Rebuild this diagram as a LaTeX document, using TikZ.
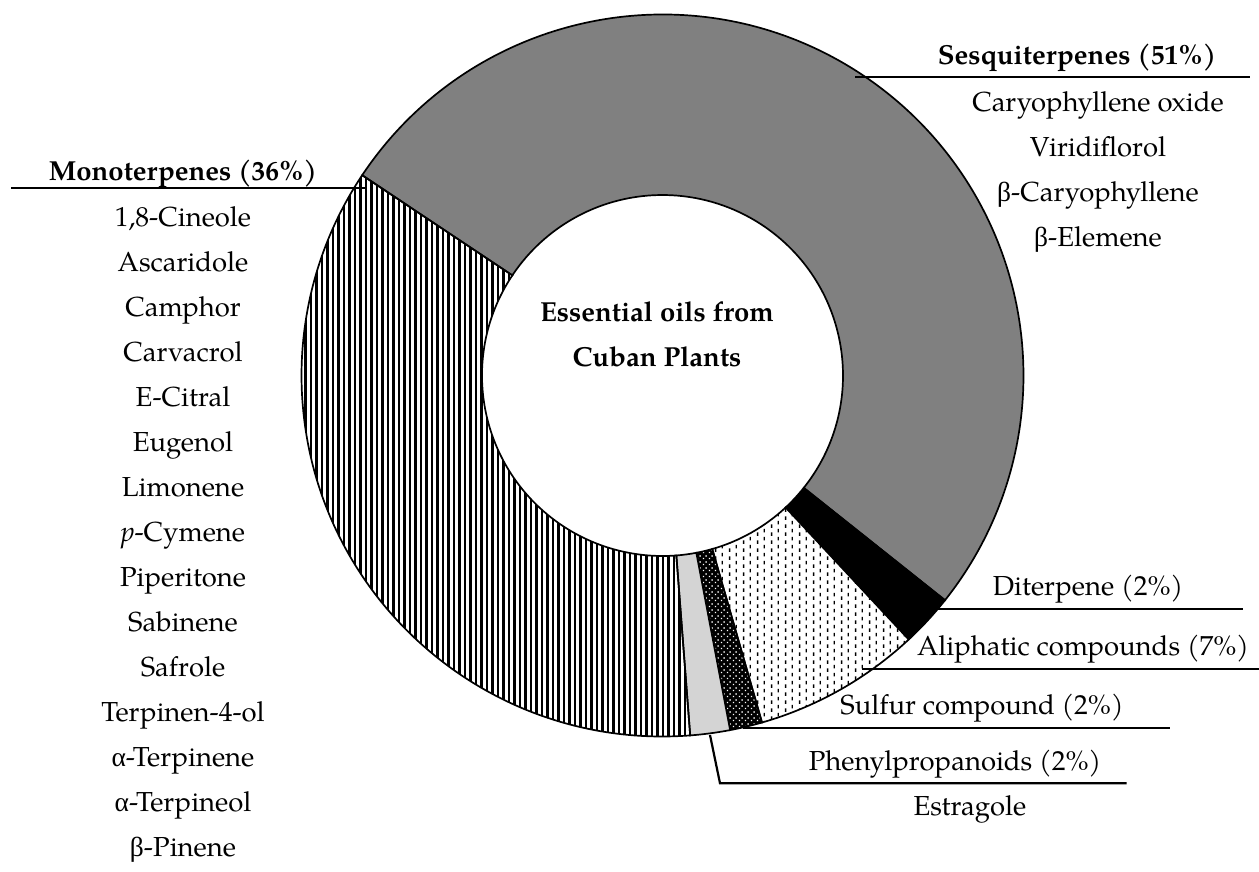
\documentclass[tikz,border=0pt]{standalone}
\usepackage{fontspec}
\setmainfont{texgyrepagella}[Extension=.otf, UprightFont=*-regular, BoldFont=*-bold, ItalicFont=*-italic, BoldItalicFont=*-bolditalic]
\newfontfamily\grk{Liberation Serif}
\usetikzlibrary{patterns}
\pgfdeclarepatternformonly{vdashes}{\pgfpointorigin}{\pgfpoint{14pt}{8pt}}{\pgfpoint{14pt}{8pt}}{\pgfpathrectangle{\pgfpoint{1pt}{0pt}}{\pgfpoint{1.4pt}{4pt}}\pgfpathrectangle{\pgfpoint{8pt}{4pt}}{\pgfpoint{1.4pt}{4pt}}\pgfusepath{fill}}
\pgfdeclarepatternformonly{wdots}{\pgfpointorigin}{\pgfpoint{6pt}{6pt}}{\pgfpoint{6pt}{6pt}}{\pgfpathrectangle{\pgfpoint{1pt}{1pt}}{\pgfpoint{1.5pt}{1.5pt}}\pgfpathrectangle{\pgfpoint{4pt}{4pt}}{\pgfpoint{1.5pt}{1.5pt}}\pgfusepath{fill}}
\definecolor{sesqui}{HTML}{808080}
\definecolor{phenyl}{HTML}{D4D4D4}
\newcommand\ringslice[3]{%
  \path[#1] (#2:361pt) arc[start angle=#2, end angle=#3, radius=361pt] -- (#3:180.5pt) arc[start angle=#3, end angle=#2, radius=180.5pt] -- cycle;}
\begin{document}
\begin{tikzpicture}[x=1pt,y=1pt,
  lbl/.style={font=\fontsize{27.5}{32}\selectfont, anchor=base, inner sep=0pt},
  hdr/.style={lbl, font=\fontsize{27.5}{32}\selectfont\bfseries},
  leader/.style={draw=black, line width=2.2pt},
  slice/.style={draw=black, line width=1.7pt, line join=miter}]
\useasboundingbox (0,0) rectangle (1259,-872);
\fill[white] (0,0) rectangle (1259,-872);
\begin{scope}[shift={(662.5,-375.5)}]
  \ringslice{slice, fill=sesqui}{146.3}{-38.5}
  \ringslice{slice, fill=black}{-38.5}{-47}
  \ringslice{slice, preaction={fill=white}, pattern=vdashes, pattern color=black}{-47}{-74}
  \ringslice{slice, preaction={fill=black}, pattern=wdots, pattern color=white}{-74}{-79.2}
  \ringslice{slice, fill=phenyl}{-79.2}{-85.6}
  % monoterpenes: vertical stripes
  \begin{scope}
    \ringslice{clip}{-85.6}{-213.7}
    \foreach \x in {-364,-358.5,...,45}
      \fill[black] (\x,-365) rectangle (\x+2.5,365);
  \end{scope}
  \ringslice{slice}{-85.6}{-213.7}
\end{scope}
% centre title
\node[hdr] (title1) at (657,-321) {Essential oils from};
\node[hdr] (title2) at (657,-366) {Cuban Plants};
% monoterpenes
\node[hdr] (monoH) at (183,-181) {Monoterpenes (36\%)};
\foreach \t [count=\i] in {{1,8-Cineole},Ascaridole,Camphor,Carvacrol,E-Citral,Eugenol,Limonene,{\textit{p}-Cymene},Piperitone,Sabinene,Safrole,Terpinen-4-ol,{{\grk α}-Terpinene},{{\grk α}-Terpineol},{{\grk β}-Pinene}}
  \node[lbl] (m\i) at (183,{-226.7-45*(\i-1)}) {\t};
\coordinate (monoA) at (11,-188);
\coordinate (monoB) at (367,-188);
\draw[leader] (monoA) -- (monoB);
% sesquiterpenes
\node[hdr] (sesH) at (1077,-65) {Sesquiterpenes (51\%)};
\foreach \t [count=\i] in {Caryophyllene oxide,Viridiflorol,{{\grk β}-Caryophyllene},{{\grk β}-Elemene}}
  \node[lbl] (s\i) at (1098,{-111.5-45*(\i-1)}) {\t};
\coordinate (sesA) at (855,-76.7);
\coordinate (sesB) at (1250,-76.7);
\draw[leader] (sesA) -- (sesB);
% diterpene
\node[lbl] (diter) at (1088,-595) {Diterpene (2\%)};
\coordinate (ditA) at (938,-609.3);
\coordinate (ditB) at (1243,-609.3);
\draw[leader] (ditA) -- (ditB);
% aliphatic
\node[lbl] (aliph) at (1083,-655) {Aliphatic compounds (7\%)};
\coordinate (aliA) at (861.7,-669.3);
\coordinate (aliB) at (1259,-669.3);
\draw[leader] (aliA) -- (aliB);
% sulfur
\node[lbl] (sulf) at (982,-714) {Sulfur compound (2\%)};
\coordinate (sulA) at (743.3,-727.7);
\coordinate (sulB) at (1170,-727.7);
\draw[leader] (sulA) -- (sulB);
% phenylpropanoids
\node[lbl] (phen) at (955,-770) {Phenylpropanoids (2\%)};
\node[lbl] (estr) at (970,-815) {Estragole};
\coordinate (phA) at (710,-735);
\coordinate (phK) at (720,-783.3);
\coordinate (phB) at (1126.7,-783.3);
\draw[leader, line join=miter] (phA) -- (phK) -- (phB);
\end{tikzpicture}
\end{document}
